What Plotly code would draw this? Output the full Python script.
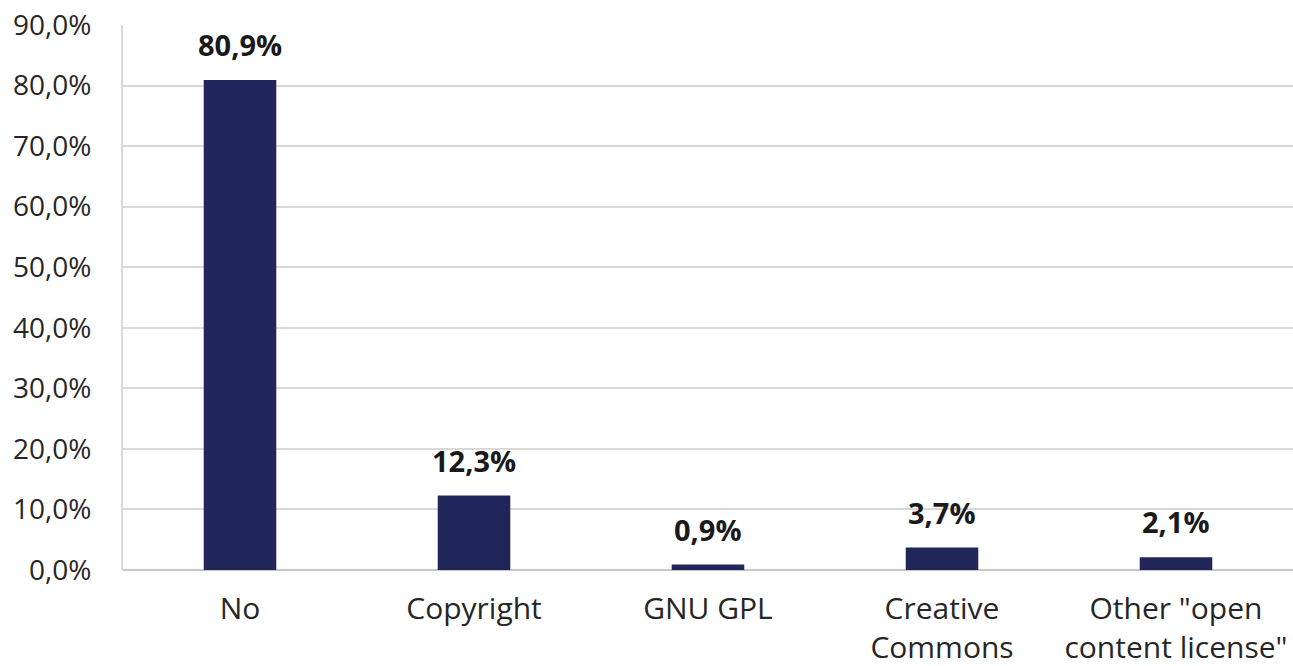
import plotly.graph_objects as go

# --- data ---
categories = ["No", "Copyright", "GNU GPL", "Creative<br>Commons", "Other \"open<br>content license\""]
shares = [80.9, 12.3, 0.9, 3.7, 2.1]
y_ticks = [0, 10, 20, 30, 40, 50, 60, 70, 80, 90]
y_tick_labels = [f"{v:.1f}".replace(".", ",") + "%" for v in y_ticks]
bar_labels = [f"{v:.1f}".replace(".", ",") + "%" for v in shares]

BAR = "#202659"
GRID = "#d9d9d9"
FONT = "Open Sans"

fig = go.Figure()
fig.add_trace(go.Bar(
    x=categories, y=shares,
    marker=dict(color=BAR, line=dict(width=0)),
    width=0.31,
    hoverinfo="skip",
))

# value labels above bars
for cat, val, lab in zip(categories, shares, bar_labels):
    fig.add_annotation(
        x=cat, y=val, text=f"<b>{lab}</b>",
        showarrow=False, yanchor="bottom", yshift=14,
        font=dict(family=FONT, size=29, color="#1a1a1a"),
    )

fig.update_layout(
    width=1293, height=666,
    margin=dict(l=123, r=0, t=25, b=96),
    paper_bgcolor="white", plot_bgcolor="white",
    showlegend=False,
    font=dict(family=FONT, size=28, color="#262626"),
)
fig.update_xaxes(
    showgrid=False, ticks="", showline=False,
    ticklabelstandoff=18,
    tickfont=dict(family=FONT, size=30, color="#262626"),
)
fig.update_yaxes(
    range=[0, 90], tickvals=y_ticks, ticktext=y_tick_labels,
    showgrid=True, gridcolor=GRID, gridwidth=2,
    zeroline=True, zerolinecolor="#c8c8c8", zerolinewidth=2,
    showline=True, linecolor=GRID, linewidth=2,
    ticks="", ticklabelstandoff=24,
    tickfont=dict(family=FONT, size=28, color="#262626"),
)

# page has a default body margin; drop it so the figure fills the window
fig.write_html("out.html", config={"displayModeBar": False},
               post_script="document.body.style.margin='0';")
